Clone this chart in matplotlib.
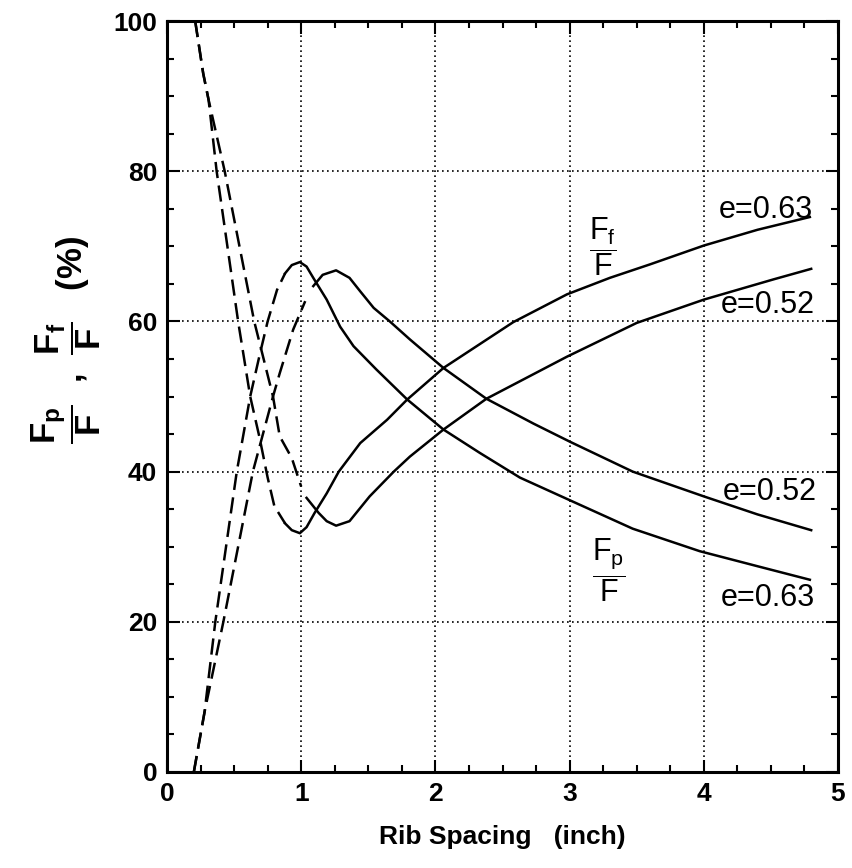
import matplotlib
matplotlib.use('Agg')
import matplotlib.pyplot as plt
from matplotlib.ticker import MultipleLocator

plt.rcParams['font.family'] = ['Liberation Sans', 'DejaVu Sans']
plt.rcParams['mathtext.default'] = 'regular'

# ===== data =====
# Fp/F, e=0.63
fp63_dash_x = [0.20, 0.28, 0.36, 0.52, 0.62, 0.69, 0.75, 0.82, 0.88]
fp63_dash_y = [0.0, 8.0, 20.0, 40.0, 50.0, 55.5, 60.0, 64.2, 66.4]
fp63_x = [0.88, 0.93, 0.99, 1.04, 1.09, 1.19, 1.29, 1.39, 1.56, 1.79, 2.06, 2.33, 2.63,
          3.00, 3.47, 3.97, 4.40, 4.79]
fp63_y = [66.4, 67.5, 67.9, 67.3, 65.8, 62.9, 59.3, 56.7, 53.6, 49.6, 45.6, 42.5, 39.2,
          36.2, 32.4, 29.4, 27.4, 25.6]

# Fp/F, e=0.52
fp52_dash_x = [0.20, 0.28, 0.42, 0.64, 0.79, 0.84, 0.94, 1.03]
fp52_dash_y = [0.0, 8.0, 20.0, 40.0, 50.0, 53.1, 58.9, 62.7]
fp52_x = [1.09, 1.16, 1.26, 1.36, 1.44, 1.54, 1.66, 1.81, 2.06, 2.38, 2.73, 3.00, 3.47,
          4.00, 4.40, 4.80]
fp52_y = [64.7, 66.2, 66.8, 65.8, 64.0, 61.8, 60.0, 57.6, 53.8, 49.7, 46.4, 44.0, 40.0,
          36.7, 34.3, 32.2]

# Ff/F, e=0.63
ff63_dash_x = [0.21, 0.27, 0.31, 0.37, 0.53, 0.62, 0.69, 0.75, 0.80, 0.88]
ff63_dash_y = [100.0, 93.0, 89.5, 80.0, 60.0, 50.0, 44.5, 39.2, 35.4, 33.1]
ff63_x = [0.88, 0.93, 0.99, 1.04, 1.10, 1.19, 1.28, 1.44, 1.64, 1.79, 2.06, 2.58, 2.98,
          3.30, 3.60, 4.00, 4.40, 4.79]
ff63_y = [33.1, 32.2, 31.8, 32.6, 34.5, 37.1, 40.0, 43.8, 46.9, 49.6, 53.8, 59.9, 63.6,
          65.8, 67.6, 70.1, 72.2, 73.9]

# Ff/F, e=0.52
ff52_dash_x = [0.21, 0.27, 0.31, 0.43, 0.65, 0.79, 0.84, 0.93, 1.00]
ff52_dash_y = [100.0, 93.0, 89.5, 80.0, 60.0, 50.0, 44.7, 41.8, 38.0]
ff52_x = [1.04, 1.13, 1.19, 1.26, 1.36, 1.51, 1.69, 1.81, 2.06, 2.38, 2.98, 3.50, 4.00,
          4.52, 4.80]
ff52_y = [36.5, 34.5, 33.4, 32.8, 33.4, 36.7, 40.0, 42.0, 45.6, 49.7, 55.3, 59.8, 62.9,
          65.6, 67.0]

x_ticks = [0, 1, 2, 3, 4, 5]
y_ticks = [0, 20, 40, 60, 80, 100]

# ===== figure =====
fig = plt.figure(figsize=(8.52, 8.68), dpi=100)
ax = fig.add_axes([0.196, 0.1106, 0.7876, 0.8652])

lw = 1.8
for dx, dy in [(fp63_dash_x, fp63_dash_y), (fp52_dash_x, fp52_dash_y),
               (ff63_dash_x, ff63_dash_y), (ff52_dash_x, ff52_dash_y)]:
    ax.plot(dx, dy, color='black', linewidth=lw, linestyle=(0, (6.5, 3)))
for sx, sy in [(fp63_x, fp63_y), (fp52_x, fp52_y), (ff63_x, ff63_y), (ff52_x, ff52_y)]:
    ax.plot(sx, sy, color='black', linewidth=lw)

ax.set_xlim(0, 5)
ax.set_ylim(0, 100)
ax.set_xticks(x_ticks)
ax.set_yticks(y_ticks)
ax.xaxis.set_minor_locator(MultipleLocator(0.25))
ax.yaxis.set_minor_locator(MultipleLocator(5))
ax.grid(True, which='major', color='black', linestyle=(0, (1, 2)), linewidth=1.2)

ax.tick_params(which='both', direction='in', top=True, right=True, width=1.5)
ax.tick_params(which='major', length=9, labelsize=19, pad=7)
ax.tick_params(which='minor', length=5)
for lab in ax.get_xticklabels() + ax.get_yticklabels():
    lab.set_fontweight('bold')
for sp in ax.spines.values():
    sp.set_linewidth(2.2)

ax.set_xlabel('Rib Spacing   (inch)', fontsize=19, fontweight='bold', labelpad=14)
ax.set_ylabel(r'$\dfrac{F_p}{F}$  ,  $\dfrac{F_f}{F}$   (%)', fontsize=25, fontweight='bold')
ax.yaxis.set_label_coords(-0.095, 0.575)

# curve labels
ax.text(3.25, 69.9, r'$\dfrac{F_f}{F}$', fontsize=22, ha='center', va='center')
ax.text(3.29, 26.9, r'$\dfrac{F_p}{F}$', fontsize=22, ha='center', va='center')
ax.text(4.81, 74.9, 'e=0.63', fontsize=22, ha='right', va='center')
ax.text(4.83, 62.2, 'e=0.52', fontsize=22, ha='right', va='center')
ax.text(4.84, 37.3, 'e=0.52', fontsize=22, ha='right', va='center')
ax.text(4.83, 23.2, 'e=0.63', fontsize=22, ha='right', va='center')

fig.savefig('out.png', dpi=100)
